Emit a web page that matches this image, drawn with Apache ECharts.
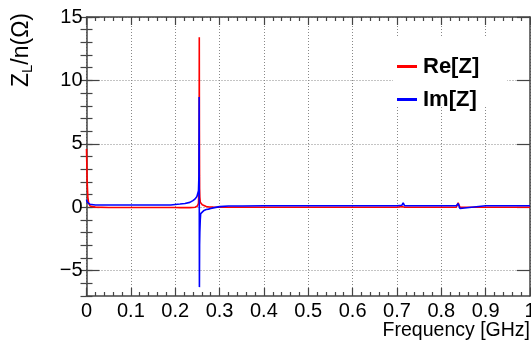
<!DOCTYPE html>
<html>
<head>
<meta charset="utf-8">
<script src="https://cdn.jsdelivr.net/npm/echarts@6/dist/echarts.min.js"></script>
<style>html,body{margin:0;padding:0;background:#fff;}#c{width:531px;height:340px;}</style>
</head>
<body>
<div id="c"></div>
<script>
// Frequency [GHz]
var freq = [0, 0.0015, 0.003, 0.005, 0.008, 0.012, 0.02, 0.05, 0.1, 0.15, 0.19, 0.2, 0.211, 0.222, 0.233, 0.24, 0.245, 0.249,
  0.25, 0.2525, 0.2535, 0.254, 0.2543, 0.2546, 0.255, 0.2555, 0.2565, 0.2575, 0.261, 0.265, 0.27, 0.275, 0.28, 0.286, 0.3, 0.32,
  0.345, 0.348, 0.352, 0.4, 0.5, 0.6, 0.7, 0.711, 0.714, 0.717, 0.8, 0.834, 0.838, 0.842, 0.9, 1.0];
// Re[Z] (Z_L/n)
var reZ = [4.6, 2.0, 0.8, 0.3, 0.1, 0.03, 0.01, -0.02, -0.02, -0.02, -0.02, -0.02, -0.03, -0.03, -0.03, -0.02, 0.0, 0.05,
  0.1, 0.3, 1.5, 6.0, 13.4, 6.0, 1.5, 0.8, 0.4, 0.3, 0.2, 0.12, 0.06, 0.03, 0.02, 0.01, 0.0, 0.0,
  0.0, 0.05, 0.0, 0.0, 0.0, 0.0, 0.0, 0.05, 0.1, 0.0, 0.0, 0.0, 0.35, 0.0, 0.0, 0.0];
// Im[Z] (Z_L/n)
var imZ = [0.6, 0.4, 0.3, 0.26, 0.23, 0.2, 0.18, 0.18, 0.18, 0.18, 0.18, 0.22, 0.25, 0.3, 0.38, 0.52, 0.66, 0.85,
  0.95, 1.3, 2.5, 8.7, 0.0, -6.3, -3.0, -2.0, -1.0, -0.5, -0.35, -0.25, -0.18, -0.15, -0.1, -0.05, 0.05, 0.1,
  0.1, 0.25, 0.1, 0.12, 0.12, 0.12, 0.12, 0.15, 0.35, 0.12, 0.12, 0.12, 0.3, -0.1, 0.12, 0.12];
var yMajor = [-5, 0, 5, 10, 15];
var xTitle = 'Frequency [GHz]';
var seriesNames = ['Re[Z]', 'Im[Z]'];

var FONT = '"Liberation Sans", Arial, Helvetica, sans-serif';
var AX = '#444';
function pairs(ys) { return freq.map(function (f, i) { return [f, ys[i]]; }); }
function yFmt(v) { return v < 0 ? '\u2212' + Math.abs(v) : String(v); }
var gridLine = { show: true, lineStyle: { color: '#888', width: 1, type: [1, 2] } };

var chart = echarts.init(document.getElementById('c'), null, { renderer: 'canvas' });
chart.setOption({
  animation: false,
  backgroundColor: '#fff',
  grid: { left: 86.5, right: 1, top: 17, bottom: 44, containLabel: false, outerBoundsMode: 'none' },
  xAxis: [
    { type: 'value', position: 'bottom', min: 0, max: 1, interval: 0.1,
      axisLine: { show: true, onZero: false, lineStyle: { color: AX, width: 1.5 } },
      axisTick: { show: true, inside: true, length: 8, lineStyle: { color: AX, width: 1.2 } },
      minorTick: { show: true, splitNumber: 5, length: 4, lineStyle: { color: AX, width: 1.2 } },
      axisLabel: { show: true, margin: 5, fontSize: 20, color: '#000', fontFamily: FONT },
      splitLine: gridLine },
    { type: 'value', position: 'top', min: 0, max: 1, interval: 0.1,
      axisLine: { show: true, onZero: false, lineStyle: { color: AX, width: 1.5 } },
      axisTick: { show: true, inside: true, length: 8, lineStyle: { color: AX, width: 1.2 } },
      minorTick: { show: true, splitNumber: 5, length: 4, lineStyle: { color: AX, width: 1.2 } },
      axisLabel: { show: false }, splitLine: { show: false } }
  ],
  yAxis: [
    { type: 'value', position: 'left', min: -7, max: 15,
      axisLine: { show: true, onZero: false, lineStyle: { color: AX, width: 1.5 } },
      axisTick: { show: true, inside: true, length: 13, customValues: yMajor, lineStyle: { color: AX, width: 1.2 } },
      axisLabel: { show: true, customValues: yMajor, margin: 4, fontSize: 20, color: '#000', fontFamily: FONT, formatter: yFmt },
      splitLine: gridLine },
    { type: 'value', position: 'left', min: -7, max: 15, interval: 1,
      axisLine: { show: false },
      axisTick: { show: true, inside: true, length: 6, lineStyle: { color: AX, width: 1.2 } },
      axisLabel: { show: false }, splitLine: { show: false } },
    { type: 'value', position: 'right', min: -7, max: 15,
      axisLine: { show: true, onZero: false, lineStyle: { color: AX, width: 1.5 } },
      axisTick: { show: true, inside: true, length: 13, customValues: yMajor, lineStyle: { color: AX, width: 1.2 } },
      axisLabel: { show: false }, splitLine: { show: false } },
    { type: 'value', position: 'right', min: -7, max: 15, interval: 1,
      axisLine: { show: false },
      axisTick: { show: true, inside: true, length: 6, lineStyle: { color: AX, width: 1.2 } },
      axisLabel: { show: false }, splitLine: { show: false } }
  ],
  legend: {
    show: true, orient: 'vertical', left: 397, top: 55.5, itemGap: 11, padding: 0,
    itemWidth: 20, itemHeight: 3, icon: 'rect',
    textStyle: { fontSize: 22, fontWeight: 'bold', color: '#000', fontFamily: FONT, padding: [0, 0, 0, 1] },
    data: seriesNames
  },
  series: [
    { name: seriesNames[0], type: 'line', xAxisIndex: 0, yAxisIndex: 0, data: pairs(reZ),
      showSymbol: false, symbol: 'none', color: '#ff0000', lineStyle: { width: 1.6, color: '#ff0000' } },
    { name: seriesNames[1], type: 'line', xAxisIndex: 0, yAxisIndex: 0, data: pairs(imZ),
      showSymbol: false, symbol: 'none', color: '#0000ff', lineStyle: { width: 1.6, color: '#0000ff' } }
  ],
  graphic: [
    { type: 'rect', z: 3, shape: { x: 393, y: 37, width: 114, height: 70 }, style: { fill: '#fff' } },
    { type: 'text', z: 10, x: 530, y: 331,
      style: { text: xTitle, fontSize: 19.5, fontFamily: FONT, fill: '#000', align: 'right', verticalAlign: 'middle' } },
    { type: 'text', z: 10, x: 22, y: 13, rotation: Math.PI / 2,
      style: { text: '{a|Z}{s|L}{a|/n(\u03A9)}', align: 'right', verticalAlign: 'middle',
        rich: { a: { fontSize: 23, fontFamily: FONT, fill: '#000', lineHeight: 27, verticalAlign: 'middle' },
                s: { fontSize: 15, fontFamily: FONT, fill: '#000', lineHeight: 15, verticalAlign: 'bottom' } } } }
  ]
});
</script>
</body>
</html>
